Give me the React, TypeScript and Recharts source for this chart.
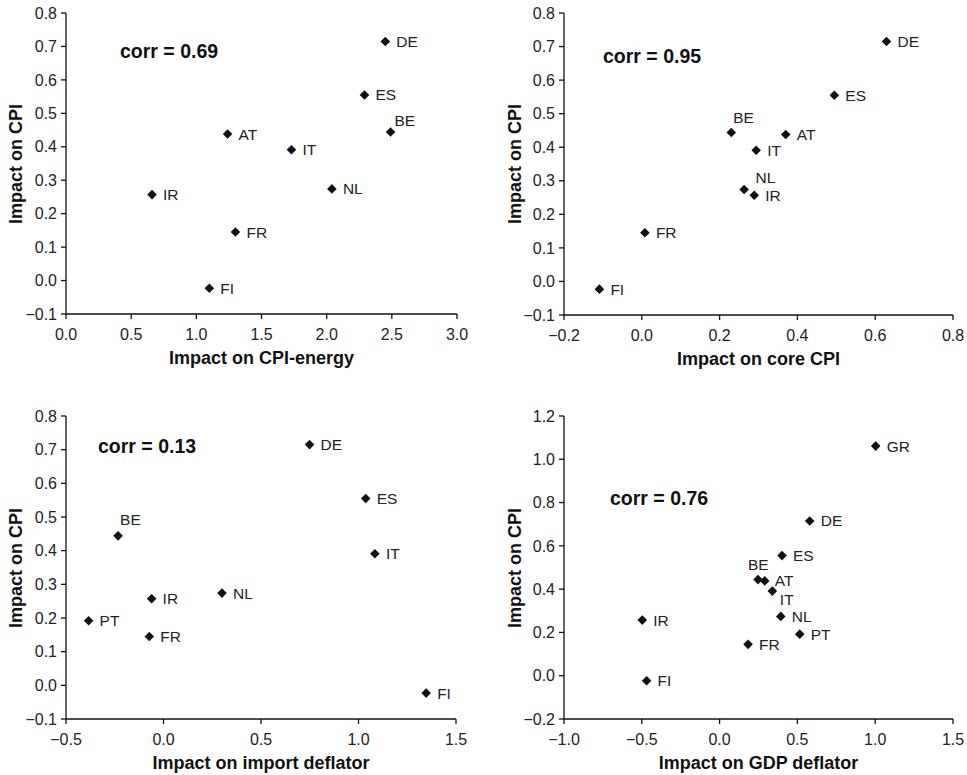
import React from "react";
import { ScatterChart, Scatter, XAxis, YAxis } from "recharts";

const countries = ["DE", "ES", "BE", "AT", "IT", "NL", "IR", "FR", "FI", "PT", "GR"];
const cpiImpact = [0.715, 0.555, 0.444, 0.438, 0.391, 0.274, 0.257, 0.145, -0.023, 0.192, 1.061];
const energyImpact = [2.45, 2.29, 2.49, 1.24, 1.73, 2.04, 0.66, 1.3, 1.1, null, null];
const coreImpact = [0.629, 0.495, 0.23, 0.37, 0.294, 0.263, 0.289, 0.008, -0.109, null, null];
const importImpact = [0.749, 1.037, -0.233, null, 1.084, 0.3, -0.061, -0.073, 1.347, -0.384, null];
const gdpImpact = [0.579, 0.401, 0.247, 0.29, 0.339, 0.393, -0.497, 0.183, -0.469, 0.515, 1.003];

const ticksEnergy = [0, 0.5, 1, 1.5, 2, 2.5, 3];
const ticksCore = [-0.2, 0, 0.2, 0.4, 0.6, 0.8];
const ticksImport = [-0.5, 0, 0.5, 1, 1.5];
const ticksGdp = [-1, -0.5, 0, 0.5, 1, 1.5];
const ticksCpi = [-0.1, 0, 0.1, 0.2, 0.3, 0.4, 0.5, 0.6, 0.7, 0.8];
const ticksCpiWide = [-0.2, 0, 0.2, 0.4, 0.6, 0.8, 1.0, 1.2];

const FONT = '"Liberation Sans", Arial, Helvetica, sans-serif';

// label nudges where the label isn't simply to the right of the marker
const DEFAULT_OFF: [number, number] = [11, 0];

const fmt = (v: number) => (v < 0 ? "\u2212" + Math.abs(v).toFixed(1) : v.toFixed(1));

const makePoints = (xs: (number | null)[]) =>
  countries
    .map((c, i) => ({ name: c, x: xs[i], y: cpiImpact[i] }))
    .filter((p) => p.x !== null);

const diamondShape = (offsets: Record<string, [number, number]>) => (props: any) => {
  const { cx, cy, payload } = props;
  const r = 4.8;
  const [dx, dy] = offsets[payload.name] || DEFAULT_OFF;
  return (
    <g>
      <path d={`M${cx},${cy - r}L${cx + r},${cy}L${cx},${cy + r}L${cx - r},${cy}Z`} fill="#111" />
      <text
        x={cx + dx}
        y={cy + dy}
        dominantBaseline="central"
        fontSize={15.5}
        fontFamily={FONT}
        fill="#222"
      >
        {payload.name}
      </text>
    </g>
  );
};

interface PanelProps {
  left: number;
  top: number;
  width: number;
  height: number;
  margin: { top: number; right: number; left: number; bottom: number };
  yWidth: number;
  xHeight: number;
  xTickMargin: number;
  xs: (number | null)[];
  xTicks: number[];
  yTicks: number[];
  xTitle: string;
  corr: string;
  corrPos: [number, number];
  yTitleX: number;
  xTitleY: number;
  offsets: Record<string, [number, number]>;
}

function Panel(p: PanelProps) {
  const data = makePoints(p.xs);
  const plotLeft = p.margin.left + p.yWidth;
  const plotRight = p.width - p.margin.right;
  const plotTop = p.margin.top;
  const plotBottom = p.height - p.margin.bottom - p.xHeight;
  const axisStyle = { stroke: "#111", strokeWidth: 1.3 };
  const tickStyle = { fill: "#222", fontSize: 16, fontFamily: FONT };
  return (
    <div style={{ position: "absolute", left: p.left, top: p.top, width: p.width, height: p.height }}>
      <ScatterChart width={p.width} height={p.height} margin={p.margin}>
        <XAxis
          type="number"
          dataKey="x"
          domain={[p.xTicks[0], p.xTicks[p.xTicks.length - 1]]}
          ticks={p.xTicks}
          allowDataOverflow
          height={p.xHeight}
          tickFormatter={fmt}
          axisLine={axisStyle}
          tickLine={axisStyle}
          tickSize={5}
          tickMargin={p.xTickMargin}
          tick={tickStyle}
          interval={0}
        />
        <YAxis
          type="number"
          dataKey="y"
          domain={[p.yTicks[0], p.yTicks[p.yTicks.length - 1]]}
          ticks={p.yTicks}
          allowDataOverflow
          width={p.yWidth}
          tickFormatter={fmt}
          axisLine={axisStyle}
          tickLine={axisStyle}
          tickSize={5}
          tickMargin={4}
          tick={tickStyle}
          interval={0}
        />
        <Scatter data={data} shape={diamondShape(p.offsets)} isAnimationActive={false} />
      </ScatterChart>
      <div
        style={{
          position: "absolute",
          left: p.corrPos[0],
          top: p.corrPos[1],
          transform: "translateY(-50%)",
          fontFamily: FONT,
          fontWeight: "bold",
          fontSize: 19.5,
          color: "#111",
          whiteSpace: "nowrap",
          lineHeight: 1,
        }}
      >
        {p.corr}
      </div>
      <div
        style={{
          position: "absolute",
          left: (plotLeft + plotRight) / 2,
          top: p.xTitleY,
          transform: "translate(-50%, -50%)",
          fontFamily: FONT,
          fontWeight: "bold",
          fontSize: 18,
          color: "#111",
          whiteSpace: "nowrap",
          lineHeight: 1,
        }}
      >
        {p.xTitle}
      </div>
      <div
        style={{
          position: "absolute",
          left: p.yTitleX,
          top: (plotTop + plotBottom) / 2,
          transform: "translate(-50%, -50%) rotate(-90deg)",
          fontFamily: FONT,
          fontWeight: "bold",
          fontSize: 18,
          color: "#111",
          whiteSpace: "nowrap",
          lineHeight: 1,
        }}
      >
        Impact on CPI
      </div>
    </div>
  );
}

export default function App() {
  return (
    <div style={{ position: "absolute", left: 0, top: 0, width: 967, height: 775, background: "#fff" }}>
      <Panel
        left={0}
        top={0}
        width={483}
        height={387}
        margin={{ top: 13, right: 26, left: 0, bottom: 0 }}
        yWidth={66}
        xHeight={73}
        xTickMargin={10}
        xs={energyImpact}
        xTicks={ticksEnergy}
        yTicks={ticksCpi}
        xTitle="Impact on CPI-energy"
        corr="corr = 0.69"
        corrPos={[120, 52]}
        yTitleX={15.5}
        xTitleY={358}
        offsets={{ BE: [4, -11.5] }}
      />
      <Panel
        left={483}
        top={0}
        width={484}
        height={387}
        margin={{ top: 13, right: 14, left: 0, bottom: 0 }}
        yWidth={81}
        xHeight={72}
        xTickMargin={10}
        xs={coreImpact}
        xTicks={ticksCore}
        yTicks={ticksCpi}
        xTitle="Impact on core CPI"
        corr="corr = 0.95"
        corrPos={[120, 57]}
        yTitleX={32}
        xTitleY={359}
        offsets={{ BE: [2, -15], NL: [11.5, -12.5] }}
      />
      <Panel
        left={0}
        top={387}
        width={483}
        height={388}
        margin={{ top: 29, right: 27, left: 0, bottom: 0 }}
        yWidth={66}
        xHeight={56}
        xTickMargin={10}
        xs={importImpact}
        xTicks={ticksImport}
        yTicks={ticksCpi}
        xTitle="Impact on import deflator"
        corr="corr = 0.13"
        corrPos={[98, 60]}
        yTitleX={15.5}
        xTitleY={376}
        offsets={{ BE: [2, -16] }}
      />
      <Panel
        left={483}
        top={387}
        width={484}
        height={388}
        margin={{ top: 29, right: 14, left: 0, bottom: 0 }}
        yWidth={81}
        xHeight={56}
        xTickMargin={10}
        xs={gdpImpact}
        xTicks={ticksGdp}
        yTicks={ticksCpiWide}
        xTitle="Impact on GDP deflator"
        corr="corr = 0.76"
        corrPos={[127, 112]}
        yTitleX={32}
        xTitleY={376}
        offsets={{ BE: [-10, -15], AT: [10, 0], IT: [7.5, 8.5] }}
      />
    </div>
  );
}
